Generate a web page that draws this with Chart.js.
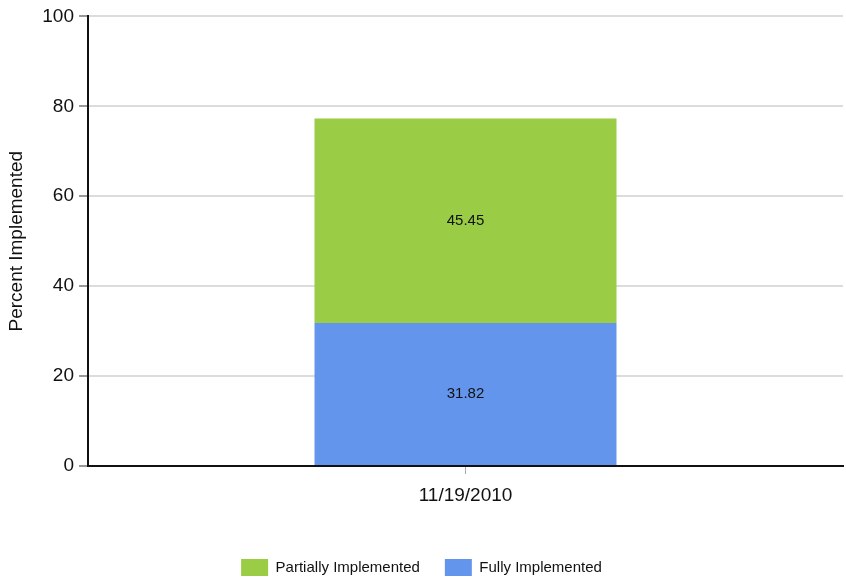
<!DOCTYPE html>
<html>
<head>
<meta charset="utf-8">
<script src="https://cdn.jsdelivr.net/npm/chart.js@4/dist/chart.umd.min.js"></script>
<style>
html,body{margin:0;padding:0;background:#fff;}
#wrap{width:846px;height:580px;position:relative;}
</style>
</head>
<body>
<div id="wrap"><canvas id="c" width="846" height="580"></canvas></div>
<script>
const categories = ["11/19/2010"];
const fullyImplemented = [31.82];
const partiallyImplemented = [45.45];
const yTicks = [0, 20, 40, 60, 80, 100];

const FONT = "'Liberation Sans', Arial, sans-serif";

const barLabels = {
  id: 'barLabels',
  afterDatasetsDraw(chart) {
    const ctx = chart.ctx;
    ctx.save();
    ctx.font = "15px " + FONT;
    ctx.fillStyle = "#111";
    ctx.textAlign = "center";
    ctx.textBaseline = "middle";
    chart.data.datasets.forEach((ds, i) => {
      const meta = chart.getDatasetMeta(i);
      meta.data.forEach((bar, j) => {
        const p = bar.getProps(['x', 'y', 'base'], true);
        ctx.fillText(ds.data[j].toFixed(2), p.x, (p.y + p.base) / 2);
      });
    });
    ctx.restore();
  }
};

new Chart(document.getElementById('c'), {
  type: 'bar',
  data: {
    labels: categories,
    datasets: [
      { label: 'Fully Implemented', data: fullyImplemented, backgroundColor: '#6495ED' },
      { label: 'Partially Implemented', data: partiallyImplemented, backgroundColor: '#9ACD45' }
    ]
  },
  options: {
    responsive: false,
    animation: false,
    barPercentage: 0.4,
    categoryPercentage: 1,
    layout: { padding: { top: 5, right: 3, left: 0, bottom: -6 } },
    plugins: {
      legend: {
        position: 'bottom',
        reverse: true,
        labels: {
          boxWidth: 27, boxHeight: 17, padding: 25,
          color: '#111',
          font: { family: FONT, size: 15 }
        }
      },
      tooltip: { enabled: false }
    },
    scales: {
      x: {
        stacked: true,
        afterFit(scale) { scale.height = 68; },
        grid: { display: true, drawOnChartArea: false, drawTicks: true, tickLength: 8, color: '#aaa', offset: false },
        border: { color: '#111', width: 2 },
        ticks: { color: '#111', font: { family: FONT, size: 19 }, padding: 10 }
      },
      y: {
        stacked: true,
        min: 0, max: 100,
        afterBuildTicks(scale) { scale.ticks = yTicks.map(v => ({ value: v })); },
        afterFit(scale) { scale.width = 88; },
        grid: { color: '#dcdcdc', tickColor: '#999', lineWidth: 2, tickLength: 9, drawTicks: true },
        border: { color: '#111', width: 2 },
        ticks: { color: '#111', font: { family: FONT, size: 19 }, padding: 5 },
        title: { display: true, text: 'Percent Implemented', color: '#111', font: { family: FONT, size: 19 }, padding: { top: 5, bottom: 0 } }
      }
    }
  },
  plugins: [barLabels]
});
</script>
</body>
</html>
